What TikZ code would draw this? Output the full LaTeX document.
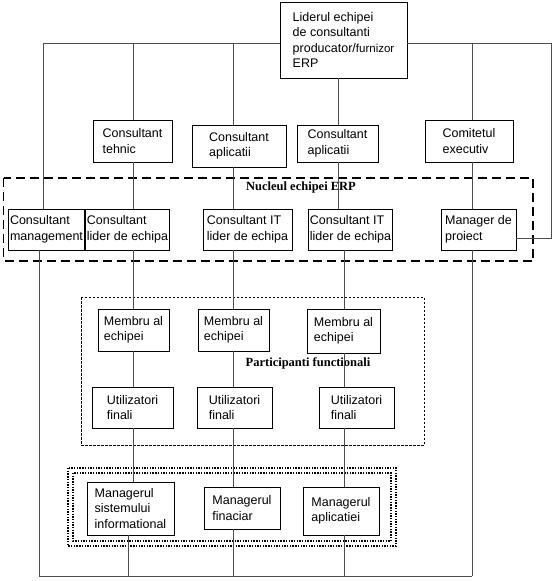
\documentclass[tikz,border=0pt]{standalone}
\usepackage{fontspec}
\setmainfont{Liberation Sans}
\newfontfamily\titlefont{Liberation Serif}
\usepackage{tikz}
\usetikzlibrary{shapes,arrows}
\tikzstyle{block} = [rectangle, draw, fill=white, %thin black frame
    align=left, inner xsep=1.5pt, inner ysep=1pt, line width=0.7pt,
    font=\fontsize{12.5}{15.5}\selectfont]
\tikzstyle{line} = [draw, black!70, line width=0.8pt]
\tikzstyle{core} = [draw, line width=1.4pt, dash pattern=on 9pt off 5pt]
\tikzstyle{users} = [draw, line width=0.6pt, dash pattern=on 2.5pt off 1.5pt]
\tikzstyle{board} = [draw, line width=1.3pt, dash pattern=on 1.4pt off 1.3pt]
\tikzstyle{title} = [font=\titlefont\bfseries\fontsize{12.5}{14}\selectfont, inner sep=0pt]

\begin{document}
\begin{tikzpicture}[x=1pt, y=-1pt]
    \useasboundingbox (0,0) rectangle (559,581);
    % group frames
    \draw [core] (3.5,178) rectangle (533,261);
    \draw [users] (81,297) rectangle (424,445);
    \draw [board] (68,468) rectangle (396,546);
    \draw [board] (73,473) rectangle (391,541);
    \node [title] (corelbl) at (301,187) {Nucleul echipei ERP};
    \node [title] (userslbl) at (308,363) {Participanti functionali};
    % columns of the connectors
    \coordinate (tl) at (43,43);
    \coordinate (tr) at (551,43);
    \coordinate (colA) at (133,0);
    \coordinate (colA2) at (128,0);
    \coordinate (colB) at (233,0);
    \coordinate (colC) at (338,0);
    \coordinate (colC2) at (344,0);
    \coordinate (colD) at (472,0);
    \coordinate (bl) at (39,576);
    \coordinate (br) at (472,576);
    \coordinate (mp) at (551,238);
    % top
    \node [block, minimum width=127pt, minimum height=76pt] (leader) at (343.5,40)
        {Liderul echipei\\de consultanti\\producator/{\fontsize{11.5}{15.5}\selectfont furnizor}\\ERP};
    \node [block, minimum width=79pt, minimum height=42pt] (tehnic) at (132.5,141) {Consultant\\tehnic};
    \node [block, minimum width=94pt, minimum height=42pt] (aplic1) at (239,146) {Consultant\\aplicatii};
    \node [block, minimum width=81pt, minimum height=37pt] (aplic2) at (337.5,143.5) {Consultant\\aplicatii};
    \node [block, minimum width=88pt, minimum height=42pt] (comitet) at (469,141) {Comitetul\\executiv};
    % core team
    \node [block, minimum width=71pt, minimum height=41pt] (mgmt) at (46.5,229.5) {Consultant\\management};
    \node [block, minimum width=81pt, minimum height=41pt] (lider1) at (127.5,229.5) {Consultant\\lider de echipa};
    \node [block, minimum width=89pt, minimum height=41pt] (it1) at (247.5,229.5) {Consultant IT\\lider de echipa};
    \node [block, minimum width=83pt, minimum height=41pt] (it2) at (350.5,229.5) {Consultant IT\\lider de echipa};
    \node [block, minimum width=75pt, minimum height=41pt] (manager) at (478.5,229.5) {Manager de\\proiect};
    % functional participants
    \node [block, minimum width=71pt, minimum height=42pt] (membru1) at (133.5,330) {Membru al\\echipei};
    \node [block, minimum width=71pt, minimum height=42pt] (membru2) at (233.5,330) {Membru al\\echipei};
    \node [block, minimum width=73pt, minimum height=44pt] (membru3) at (343.5,331) {Membru al\\echipei};
    \node [block, minimum width=81pt, minimum height=41pt] (util1) at (132.5,407.5) {Utilizatori\\finali};
    \node [block, minimum width=75pt, minimum height=41pt] (util2) at (234.5,407.5) {Utilizatori\\finali};
    \node [block, minimum width=75pt, minimum height=41pt] (util3) at (356.5,407.5) {Utilizatori\\finali};
    % managers
    \node [block, minimum width=87pt, minimum height=53pt] (msist) at (130.5,508.5) {Managerul\\sistemului\\informational};
    \node [block, minimum width=76pt, minimum height=42pt] (mfin) at (242,508) {Managerul\\finaciar};
    \node [block, minimum width=76pt, minimum height=48pt] (maplic) at (341,511) {Managerul\\aplicatiei};
    % connectors
    \path [line] (tl) -- (leader.west |- tl);
    \path [line] (leader.east |- tr) -- (tr);
    \path [line] (tl) -- (tl |- mgmt.north);
    \path [line] (colA |- tl) -- (colA |- tehnic.north);
    \path [line] (colB |- tl) -- (colB |- aplic1.north);
    \path [line] (colC |- leader.south) -- (colC |- aplic2.north);
    \path [line] (colD |- tl) -- (colD |- comitet.north);
    \path [line] (tr) -- (mp) -- (mp -| manager.east);
    \path [line] (colA |- tehnic.south) -- (colA |- lider1.north);
    \path [line] (colB |- aplic1.south) -- (colB |- it1.north);
    \path [line] (colC |- aplic2.south) -- (colC |- it2.north);
    \path [line] (colD |- comitet.south) -- (colD |- manager.north);
    \path [line] (colA |- lider1.south) -- (colA |- membru1.north);
    \path [line] (colA |- membru1.south) -- (colA |- util1.north);
    \path [line] (colA |- util1.south) -- (colA |- msist.north);
    \path [line] (colB |- it1.south) -- (colB |- membru2.north);
    \path [line] (colB |- membru2.south) -- (colB |- util2.north);
    \path [line] (colB |- util2.south) -- (colB |- mfin.north);
    \path [line] (colC2 |- it2.south) -- (colC2 |- membru3.north);
    \path [line] (colC2 |- membru3.south) -- (colC2 |- util3.north);
    \path [line] (colC2 |- util3.south) -- (colC2 |- maplic.north);
    % down to the bottom line
    \path [line] (bl |- mgmt.south) -- (bl);
    \path [line] (colA2 |- msist.south) -- (colA2 |- bl);
    \path [line] (colB |- mfin.south) -- (colB |- bl);
    \path [line] (colC2 |- maplic.south) -- (colC2 |- bl);
    \path [line] (br |- manager.south) -- (br);
    \path [line] (bl) -- (br);
\end{tikzpicture}
\end{document}
